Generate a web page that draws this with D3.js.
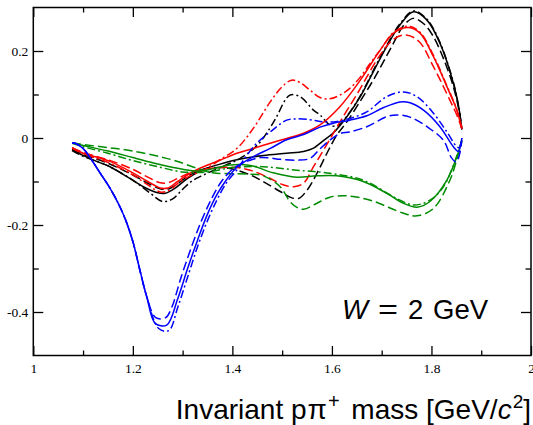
<!DOCTYPE html>
<html><head><meta charset="utf-8">
<script src="https://cdn.jsdelivr.net/npm/d3@7"></script>
<style>body{margin:0;background:#fff}</style>
</head><body>
<svg id="chart" width="533" height="425"></svg>
<script>
// ---- axis ticks ----
const xMajorTicks = [1, 1.2, 1.4, 1.6, 1.8, 2];
const xTickLabels = ["1", "1.2", "1.4", "1.6", "1.8", "2"];
const xMinorTicks = [1.1, 1.3, 1.5, 1.7, 1.9];
const yMajorTicks = [-0.4, -0.2, 0, 0.2];
const yTickLabels = ["-0.4", "-0.2", "0", "0.2"];
const yMinorTicks = [-0.3, -0.1, 0.1];

// ---- series: [invariant mass, value] ----
const blackSolid = [[1.078,-0.027],[1.10,-0.040],[1.121,-0.051],[1.154,-0.066],[1.188,-0.089],[1.221,-0.112],[1.25,-0.126],[1.265,-0.127],[1.285,-0.115],[1.31,-0.093],[1.342,-0.072],[1.375,-0.060],[1.409,-0.050],[1.462,-0.040],[1.509,-0.035],[1.543,-0.031],[1.562,-0.024],[1.583,-0.006],[1.603,0.012],[1.630,0.049],[1.657,0.095],[1.683,0.152],[1.710,0.210],[1.737,0.260],[1.764,0.290],[1.791,0.271],[1.817,0.218],[1.844,0.126],[1.855,0.070],[1.861,0.020]];
const blackDashed = [[1.078,-0.027],[1.10,-0.038],[1.15,-0.058],[1.2,-0.085],[1.23,-0.104],[1.255,-0.117],[1.27,-0.118],[1.29,-0.105],[1.315,-0.085],[1.342,-0.072],[1.37,-0.068],[1.395,-0.070],[1.436,-0.085],[1.462,-0.100],[1.496,-0.123],[1.516,-0.136],[1.533,-0.139],[1.550,-0.120],[1.570,-0.081],[1.590,-0.035],[1.610,0.007],[1.630,0.037],[1.657,0.085],[1.683,0.133],[1.72,0.21],[1.745,0.26],[1.764,0.275],[1.785,0.262],[1.804,0.233],[1.825,0.18],[1.844,0.118],[1.855,0.065],[1.861,0.020]];
const blackDashDot = [[1.078,-0.029],[1.10,-0.042],[1.15,-0.064],[1.2,-0.097],[1.235,-0.127],[1.26,-0.146],[1.28,-0.140],[1.30,-0.118],[1.32,-0.098],[1.342,-0.085],[1.375,-0.068],[1.409,-0.051],[1.435,-0.032],[1.456,-0.009],[1.475,0.022],[1.489,0.049],[1.506,0.087],[1.516,0.099],[1.536,0.095],[1.563,0.064],[1.576,0.053],[1.596,0.030],[1.612,0.028],[1.63,0.05],[1.657,0.097],[1.683,0.155],[1.710,0.213],[1.737,0.263],[1.764,0.292],[1.791,0.273],[1.817,0.220],[1.844,0.128],[1.855,0.070],[1.861,0.020]];

const redSolid = [[1.078,-0.022],[1.10,-0.035],[1.15,-0.052],[1.2,-0.080],[1.23,-0.100],[1.255,-0.115],[1.27,-0.115],[1.29,-0.100],[1.315,-0.081],[1.342,-0.066],[1.375,-0.051],[1.409,-0.035],[1.442,-0.024],[1.476,-0.012],[1.509,-0.001],[1.543,0.011],[1.576,0.030],[1.616,0.072],[1.657,0.133],[1.697,0.202],[1.724,0.241],[1.754,0.254],[1.777,0.241],[1.804,0.187],[1.831,0.118],[1.851,0.064],[1.861,0.022]];
const redDashed = [[1.078,-0.022],[1.10,-0.033],[1.15,-0.050],[1.2,-0.072],[1.23,-0.090],[1.255,-0.103],[1.27,-0.103],[1.29,-0.093],[1.315,-0.080],[1.342,-0.072],[1.375,-0.068],[1.409,-0.068],[1.436,-0.074],[1.476,-0.093],[1.503,-0.108],[1.523,-0.112],[1.543,-0.104],[1.563,-0.066],[1.583,-0.028],[1.603,0.011],[1.616,0.037],[1.65,0.100],[1.697,0.191],[1.725,0.228],[1.749,0.237],[1.775,0.222],[1.804,0.164],[1.837,0.087],[1.852,0.050],[1.861,0.022]];
const redDashDot = [[1.078,-0.023],[1.10,-0.036],[1.15,-0.056],[1.2,-0.085],[1.23,-0.108],[1.255,-0.124],[1.27,-0.122],[1.29,-0.105],[1.315,-0.087],[1.342,-0.074],[1.375,-0.050],[1.409,-0.024],[1.442,0.022],[1.476,0.083],[1.50,0.118],[1.519,0.133],[1.535,0.128],[1.556,0.110],[1.576,0.093],[1.595,0.090],[1.615,0.098],[1.636,0.114],[1.657,0.140],[1.677,0.172],[1.697,0.202],[1.724,0.243],[1.754,0.257],[1.777,0.243],[1.804,0.190],[1.831,0.120],[1.851,0.065],[1.861,0.022]];

const blueSolid = [[1.078,-0.012],[1.084,-0.012],[1.10,-0.024],[1.114,-0.045],[1.134,-0.080],[1.154,-0.115],[1.174,-0.158],[1.188,-0.196],[1.201,-0.242],[1.214,-0.303],[1.228,-0.365],[1.245,-0.426],[1.268,-0.430],[1.29,-0.370],[1.31,-0.300],[1.33,-0.235],[1.35,-0.175],[1.37,-0.128],[1.39,-0.093],[1.41,-0.066],[1.442,-0.043],[1.476,-0.024],[1.509,-0.004],[1.543,0.008],[1.576,0.025],[1.603,0.034],[1.636,0.041],[1.670,0.051],[1.704,0.070],[1.737,0.083],[1.757,0.081],[1.784,0.064],[1.817,0.026],[1.844,-0.020],[1.854,-0.031],[1.861,0.000]];
const blueDashed = [[1.078,-0.012],[1.084,-0.012],[1.10,-0.024],[1.114,-0.045],[1.134,-0.080],[1.154,-0.115],[1.174,-0.158],[1.188,-0.196],[1.201,-0.242],[1.214,-0.303],[1.228,-0.365],[1.246,-0.413],[1.266,-0.413],[1.278,-0.390],[1.297,-0.320],[1.318,-0.250],[1.338,-0.190],[1.358,-0.140],[1.378,-0.100],[1.40,-0.072],[1.42,-0.058],[1.436,-0.051],[1.456,-0.045],[1.476,-0.046],[1.496,-0.049],[1.529,-0.051],[1.556,-0.047],[1.576,-0.025],[1.596,-0.005],[1.616,0.010],[1.636,0.014],[1.670,0.026],[1.710,0.049],[1.730,0.053],[1.757,0.048],[1.791,0.026],[1.824,-0.005],[1.840,-0.045],[1.850,-0.055],[1.857,-0.035],[1.861,-0.005]];
const blueDashDot = [[1.078,-0.012],[1.084,-0.012],[1.10,-0.024],[1.114,-0.045],[1.134,-0.080],[1.154,-0.115],[1.174,-0.158],[1.188,-0.196],[1.201,-0.242],[1.214,-0.303],[1.228,-0.365],[1.252,-0.438],[1.272,-0.443],[1.29,-0.390],[1.31,-0.320],[1.33,-0.250],[1.35,-0.190],[1.37,-0.140],[1.39,-0.100],[1.41,-0.072],[1.422,-0.051],[1.449,-0.012],[1.476,0.014],[1.509,0.041],[1.529,0.044],[1.556,0.042],[1.576,0.038],[1.603,0.037],[1.636,0.045],[1.670,0.060],[1.710,0.095],[1.744,0.106],[1.771,0.095],[1.804,0.057],[1.831,0.014],[1.851,-0.020],[1.856,-0.022],[1.861,0.000]];

const greenSolid = [[1.078,-0.011],[1.10,-0.017],[1.15,-0.030],[1.2,-0.045],[1.25,-0.060],[1.30,-0.072],[1.33,-0.076],[1.36,-0.071],[1.395,-0.062],[1.436,-0.063],[1.482,-0.080],[1.529,-0.090],[1.570,-0.087],[1.610,-0.087],[1.663,-0.100],[1.710,-0.127],[1.744,-0.150],[1.771,-0.159],[1.797,-0.146],[1.831,-0.097],[1.851,-0.043],[1.861,-0.005]];
const greenDashed = [[1.078,-0.011],[1.10,-0.015],[1.15,-0.022],[1.2,-0.030],[1.255,-0.043],[1.29,-0.054],[1.33,-0.070],[1.36,-0.080],[1.395,-0.082],[1.43,-0.083],[1.462,-0.087],[1.496,-0.112],[1.515,-0.145],[1.529,-0.159],[1.543,-0.164],[1.57,-0.150],[1.596,-0.136],[1.630,-0.133],[1.677,-0.143],[1.744,-0.173],[1.771,-0.179],[1.804,-0.162],[1.837,-0.097],[1.852,-0.045],[1.861,-0.008]];
const greenDashDot = [[1.078,-0.012],[1.10,-0.020],[1.15,-0.035],[1.2,-0.052],[1.25,-0.066],[1.30,-0.078],[1.35,-0.078],[1.40,-0.068],[1.462,-0.066],[1.529,-0.074],[1.596,-0.081],[1.663,-0.097],[1.730,-0.139],[1.764,-0.154],[1.797,-0.143],[1.824,-0.112],[1.845,-0.060],[1.861,-0.005]];

const seriesList = [
  {data: blackSolid, color: "#000000", dash: null},
  {data: blackDashed, color: "#000000", dash: "9,4"},
  {data: blackDashDot, color: "#000000", dash: "8,3,2,3"},
  {data: redSolid, color: "#ff0000", dash: null},
  {data: redDashed, color: "#ff0000", dash: "9,4"},
  {data: redDashDot, color: "#ff0000", dash: "8,3,2,3"},
  {data: greenSolid, color: "#008c00", dash: null},
  {data: greenDashed, color: "#008c00", dash: "9,4"},
  {data: greenDashDot, color: "#008c00", dash: "8,3,2,3"},
  {data: blueSolid, color: "#0000ff", dash: null},
  {data: blueDashed, color: "#0000ff", dash: "9,4"},
  {data: blueDashDot, color: "#0000ff", dash: "8,3,2,3"}
];

const svg = d3.select("#chart");
const L = 33.3, R = 531, T = 7.5, B = 355.5;
const x = d3.scaleLinear().domain([1, 2]).range([L, R]);
const y = d3.scaleLinear().domain([-0.5, 0.3]).range([B, T]);
const serif = "'Liberation Serif','Times New Roman',serif";
const sans = "'Liberation Sans',Arial,Helvetica,sans-serif";

function styleAxis(g) {
  g.select(".domain").remove();
  g.selectAll(".tick line").attr("stroke", "#000").attr("stroke-width", 1.3);
  g.selectAll(".tick text").attr("font-family", serif).attr("font-size", 13.5).attr("fill", "#000");
}

// major ticks
svg.append("g").attr("transform", `translate(0,${B})`)
  .call(d3.axisBottom(x).tickValues(xMajorTicks).tickFormat((d, i) => xTickLabels[i]).tickSizeInner(-9.5).tickSizeOuter(0).tickPadding(8))
  .call(styleAxis);
svg.append("g").attr("transform", `translate(0,${T})`)
  .call(d3.axisTop(x).tickValues(xMajorTicks).tickFormat("").tickSizeInner(-9.5).tickSizeOuter(0))
  .call(styleAxis);
svg.append("g").attr("transform", `translate(${L},0)`)
  .call(d3.axisLeft(y).tickValues(yMajorTicks).tickFormat((d, i) => yTickLabels[i]).tickSizeInner(-10).tickSizeOuter(0).tickPadding(5))
  .call(styleAxis);
svg.append("g").attr("transform", `translate(${R},0)`)
  .call(d3.axisRight(y).tickValues(yMajorTicks).tickFormat("").tickSizeInner(-10).tickSizeOuter(0))
  .call(styleAxis);
// minor ticks
svg.append("g").attr("transform", `translate(0,${B})`)
  .call(d3.axisBottom(x).tickValues(xMinorTicks).tickFormat("").tickSizeInner(-5).tickSizeOuter(0)).call(styleAxis);
svg.append("g").attr("transform", `translate(0,${T})`)
  .call(d3.axisTop(x).tickValues(xMinorTicks).tickFormat("").tickSizeInner(-5).tickSizeOuter(0)).call(styleAxis);
svg.append("g").attr("transform", `translate(${L},0)`)
  .call(d3.axisLeft(y).tickValues(yMinorTicks).tickFormat("").tickSizeInner(-5.5).tickSizeOuter(0)).call(styleAxis);
svg.append("g").attr("transform", `translate(${R},0)`)
  .call(d3.axisRight(y).tickValues(yMinorTicks).tickFormat("").tickSizeInner(-5.5).tickSizeOuter(0)).call(styleAxis);

// curves
const line = d3.line().x(d => x(d[0])).y(d => y(d[1])).curve(d3.curveCatmullRom.alpha(0.5));
svg.append("g").selectAll("path").data(seriesList).join("path")
  .attr("d", s => line(s.data))
  .attr("fill", "none")
  .attr("stroke", s => s.color)
  .attr("stroke-width", 1.5)
  .attr("stroke-dasharray", s => s.dash);

// frame
svg.append("rect").attr("x", L).attr("y", T).attr("width", R - L).attr("height", B - T)
  .attr("fill", "none").attr("stroke", "#000").attr("stroke-width", 1.5);

// annotation W = 2 GeV
const ann = svg.append("g").attr("font-family", sans).attr("font-size", 27.5).attr("fill", "#000");
ann.append("text").attr("x", 342).attr("y", 318.5).attr("font-style", "italic").text("W");
ann.append("text").attr("x", 378).attr("y", 318.5).attr("textLength", 20).attr("lengthAdjust", "spacingAndGlyphs").text("=");
ann.append("text").attr("x", 408).attr("y", 318.5).text("2");
ann.append("text").attr("x", 433).attr("y", 318.5).text("GeV");

// x-axis title
const title = svg.append("text").attr("x", 531).attr("y", 419).attr("text-anchor", "end")
  .attr("font-family", sans).attr("font-size", 28).attr("fill", "#000");
title.append("tspan").text("Invariant p");
title.append("tspan").attr("dx", 1).text("π");
title.append("tspan").attr("dx", 1).attr("dy", -11).attr("font-size", 20).text("+");
title.append("tspan").attr("dx", 4).attr("dy", 11).text(" mass [GeV/");
title.append("tspan").attr("font-style", "italic").text("c");
title.append("tspan").attr("dx", 1).attr("dy", -11).attr("font-size", 19).text("2");
title.append("tspan").attr("dy", 11).text("]");
</script>
</body></html>
